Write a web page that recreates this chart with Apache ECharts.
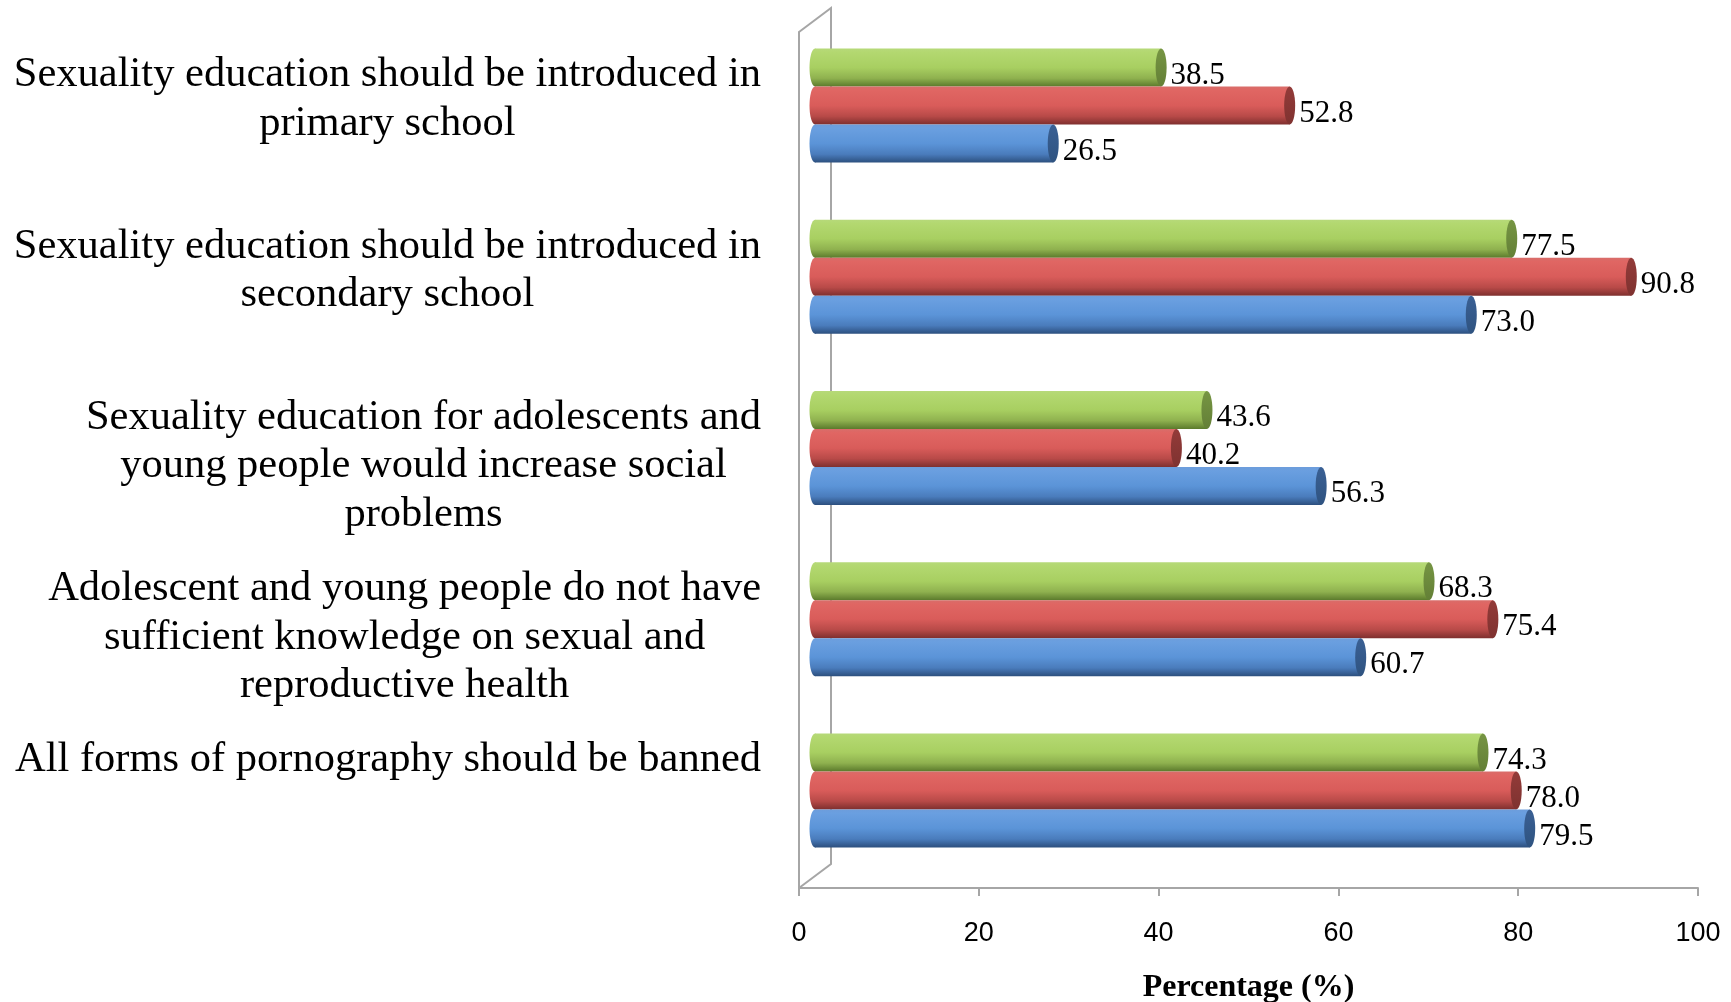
<!DOCTYPE html>
<html><head><meta charset="utf-8">
<script src="https://cdn.jsdelivr.net/npm/echarts@6/dist/echarts.min.js"></script>
<style>html,body{margin:0;padding:0;background:#fff}#c{width:1731px;height:1002px}</style>
</head><body><div id="c"></div>
<script>
const categories = [
  "Sexuality education should be introduced in\nprimary school",
  "Sexuality education should be introduced in\nsecondary school",
  "Sexuality education for adolescents and\nyoung people would increase social\nproblems",
  "Adolescent and young people do not have\nsufficient knowledge on sexual and\nreproductive health",
  "All forms of pornography should be banned"
];
const seriesNames = ["Series 1", "Series 2", "Series 3"];
const blueValues  = [26.5, 73.0, 56.3, 60.7, 79.5];
const redValues   = [52.8, 90.8, 40.2, 75.4, 78.0];
const greenValues = [38.5, 77.5, 43.6, 68.3, 74.3];
const xTickMin = 0, xTickMax = 100, xTickStep = 20;

// styles
const CAT_FONT = '42.5px "Liberation Serif", "Times New Roman", serif';
const CAT_LINE = 48.6;
const VAL_FONT = '31px "Liberation Serif", "Times New Roman", serif';
const DEPTH_X = 16, DEPTH_Y = -12;
const WALL_X = 32, WALL_Y = -24;
const LABEL_GAP = 38, LABEL_TOP = 19;
const AXIS_COLOR = '#a6a6a6';
const palettes = [
  {stops:['#6d9ddb','#6a9fe0','#5b94d8','#4a7cbc','#2c4f7e'], cap:['#3a6094','#2f5380']},
  {stops:['#d86d6a','#e06663','#d95c5a','#b84a48','#7e2f2e'], cap:['#933b39','#7f3230']},
  {stops:['#b6d979','#b3d870','#a8cf61','#8fb14f','#5b7a2c'], cap:['#769543','#637f36']}
];
const slot = [1, 0, -1];
const seriesValues = [blueValues, redValues, greenValues];

// measure label widths
const cv = document.createElement('canvas').getContext('2d');
cv.font = CAT_FONT;
const labelWidths = categories.map(t => Math.max(...t.split('\n').map(l => cv.measureText(l).width)));

function grad(st) {
  return new echarts.graphic.LinearGradient(0, 0, 0, 1, [
    {offset: 0, color: st[0]}, {offset: 0.1, color: st[1]}, {offset: 0.5, color: st[2]},
    {offset: 0.78, color: st[3]}, {offset: 1, color: st[4]}
  ]);
}

function barRender(sIdx) {
  return function (params, api) {
    const v = api.value(0), c = api.value(1);
    const p0 = api.coord([0, c]);
    const p1 = api.coord([v, c]);
    const band = api.size([0, 1])[1];
    const bh = band * 0.222;
    const cy = p0[1] + slot[sIdx] * bh + DEPTH_Y;
    const x0 = p0[0] + DEPTH_X, x1 = p1[0] + DEPTH_X;
    const rx = 5.5, ry = bh / 2;
    const pal = palettes[sIdx];
    return {type: 'group', children: [
      {type: 'ellipse', shape: {cx: x0, cy: cy, rx: rx, ry: ry}, style: {fill: grad(pal.stops)}},
      {type: 'rect', shape: {x: x0, y: cy - ry, width: x1 - x0, height: 2 * ry}, style: {fill: grad(pal.stops)}},
      {type: 'ellipse', shape: {cx: x1, cy: cy, rx: rx, ry: ry},
        style: {fill: new echarts.graphic.LinearGradient(0, 0, 0, 1, [{offset: 0, color: pal.cap[0]}, {offset: 1, color: pal.cap[1]}])}},
      {type: 'text', x: x1 + rx + 4, y: cy + 8,
        style: {text: v.toFixed(1), font: VAL_FONT, fill: '#000', align: 'left', verticalAlign: 'middle'}}
    ]};
  };
}

function labelRender(params, api) {
  const c = api.value(1);
  const p = api.coord([0, c]);
  const band = api.size([0, 1])[1];
  const top = p[1] - band / 2 + LABEL_TOP;
  const right = p[0] - LABEL_GAP;
  return {type: 'text', x: right - labelWidths[c] / 2, y: top,
    style: {text: categories[c], font: CAT_FONT, fill: '#000', align: 'center', verticalAlign: 'top', lineHeight: CAT_LINE}};
}

function frameRender(params, api) {
  const band = api.size([0, 1])[1];
  const a = api.coord([0, 0]);
  const b = api.coord([0, categories.length - 1]);
  const x0 = a[0], top = a[1] - band / 2, bot = b[1] + band / 2;
  return {type: 'polyline', shape: {points: [[x0, top], [x0 + WALL_X, top + WALL_Y], [x0 + WALL_X, bot + WALL_Y], [x0, bot]]},
    style: {stroke: AXIS_COLOR, lineWidth: 2, fill: null}};
}

const chart = echarts.init(document.getElementById('c'), null, {renderer: 'canvas'});
const series = [
  {type: 'custom', name: 'frame', renderItem: frameRender, data: [[0, 0]], z: 1, silent: true, encode: {x: 0, y: 1}}
];
[2, 1, 0].forEach(i => {
  series.push({type: 'custom', name: seriesNames[i], renderItem: barRender(i), z: 2 + (2 - i), silent: true,
    encode: {x: 0, y: 1}, data: seriesValues[i].map((v, k) => [v, k])});
});
series.push({type: 'custom', name: 'labels', renderItem: labelRender, z: 5, silent: true,
  encode: {x: 0, y: 1}, data: categories.map((_, k) => [0, k])});

chart.setOption({
  animation: false,
  backgroundColor: '#fff',
  grid: {left: 799, right: 33, top: 32, bottom: 114, containLabel: false, outerBoundsMode: 'none'},
  xAxis: {
    type: 'value', min: xTickMin, max: xTickMax, interval: xTickStep,
    name: 'Percentage (%)', nameLocation: 'middle', nameGap: 84,
    nameTextStyle: {fontFamily: '"Liberation Serif", serif', fontWeight: 'bold', fontSize: 32, color: '#000'},
    axisLine: {show: true, lineStyle: {color: AXIS_COLOR, width: 2}},
    axisTick: {show: true, inside: false, length: 8, lineStyle: {color: AXIS_COLOR, width: 2}},
    axisLabel: {margin: 32, fontFamily: '"Liberation Sans Narrow", "Liberation Sans", sans-serif', fontSize: 27, color: '#000'},
    splitLine: {show: false}
  },
  yAxis: {
    type: 'category', data: categories.map((_, k) => k), inverse: true,
    axisLine: {show: true, lineStyle: {color: AXIS_COLOR, width: 2}},
    axisTick: {show: false}, axisLabel: {show: false}, splitLine: {show: false}
  },
  series: series
});
</script></body></html>
